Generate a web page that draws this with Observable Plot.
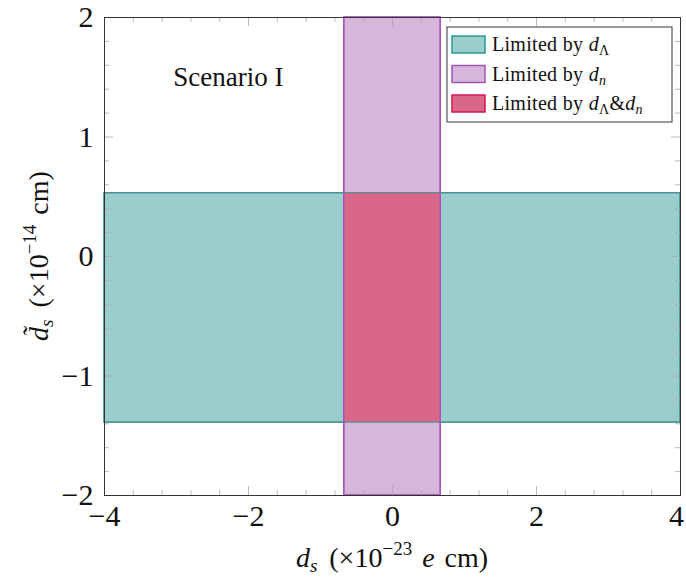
<!DOCTYPE html>
<html>
<head>
<meta charset="utf-8">
<script src="https://cdn.jsdelivr.net/npm/d3@7"></script>
<script src="https://cdn.jsdelivr.net/npm/@observablehq/plot@0.6"></script>
<style>
  html, body { margin: 0; padding: 0; background: #fff; }
  #chart svg { display: block; }
  #chart svg text { font-family: "Liberation Serif", "Times New Roman", Times, "DejaVu Serif", "Noto Serif", serif; }
</style>
</head>
<body>
<div id="chart"></div>
<script>
// ---- data ----
const xDomain = [-4, 4];
const yDomain = [-2, 2];
const xMajorTicks = [-4, -2, 0, 2, 4];
const xMinorStep = 0.4;
const yMajorTicks = [-2, -1, 0, 1, 2];
const yMinorStep = 0.2;

// Limits from d_Lambda (band in y, full x range)
const lambdaBand = [{x1: -4, x2: 4, y1: -1.39, y2: 0.53}];
// Limits from d_n (band in x, full y range)
const neutronBand = [{x1: -0.67, x2: 0.67, y1: -2, y2: 2}];
// Overlap of both
const overlapBand = [{x1: -0.67, x2: 0.67, y1: -1.39, y2: 0.53}];

const annotation = [{x: -2.28, y: 1.5, text: "Scenario I"}];

const legendItems = [
  {label: "Limited by ", math: [["d", ""], ["Λ", "sub"]], fill: "#9ccdcd", stroke: "#2a9a93"},
  {label: "Limited by ", math: [["d", ""], ["n", "sub"]], fill: "#d6b7da", stroke: "#a154b6"},
  {label: "Limited by ", math: [["d", ""], ["Λ", "sub"], ["&", "amp"], ["d", ""], ["n", "sub"]], fill: "#da6689", stroke: "#d6154f"}
];

// ---- helpers ----
function range(a, b, step) {
  const out = [];
  const n = Math.round((b - a) / step);
  for (let i = 0; i <= n; i++) out.push(+(a + i * step).toFixed(6));
  return out;
}
const xMinor = range(xDomain[0], xDomain[1], xMinorStep).filter(v => !xMajorTicks.includes(v));
const yMinor = range(yDomain[0], yDomain[1], yMinorStep).filter(v => !yMajorTicks.includes(v));
const fmt = d => d < 0 ? "\u2212" + Math.abs(d) : String(d);

const W = 686, H = 582;
const mL = 104, mR = 6, mT = 17, mB = 87;
const pxX = (xDomain[1] - xDomain[0]) / (W - mL - mR);
const pxY = (yDomain[1] - yDomain[0]) / (H - mT - mB);
const majLen = 9, minLen = 5;
const tickColor = "#a8a8a8";

function xTicks(vals, len) {
  return [
    Plot.ruleX(vals, {x: d => d, y1: yDomain[0], y2: yDomain[0] + len * pxY, stroke: tickColor, strokeWidth: 0.8}),
    Plot.ruleX(vals, {x: d => d, y1: yDomain[1], y2: yDomain[1] - len * pxY, stroke: tickColor, strokeWidth: 0.8})
  ];
}
function yTicks(vals, len) {
  return [
    Plot.ruleY(vals, {y: d => d, x1: xDomain[0], x2: xDomain[0] + len * pxX, stroke: tickColor, strokeWidth: 0.8}),
    Plot.ruleY(vals, {y: d => d, x1: xDomain[1], x2: xDomain[1] - len * pxX, stroke: tickColor, strokeWidth: 0.8})
  ];
}

const fontFamily = "Liberation Serif, Times New Roman, Times, DejaVu Serif, Noto Serif, serif";

const chart = Plot.plot({
  width: W,
  height: H,
  marginLeft: mL,
  marginRight: mR,
  marginTop: mT,
  marginBottom: mB,
  style: {fontFamily, background: "#fff", overflow: "visible"},
  x: {domain: xDomain},
  y: {domain: yDomain},
  marks: [
    Plot.rect(lambdaBand, {x1: "x1", x2: "x2", y1: "y1", y2: "y2", fill: legendItems[0].fill, stroke: legendItems[0].stroke, strokeWidth: 1.2}),
    Plot.rect(neutronBand, {x1: "x1", x2: "x2", y1: "y1", y2: "y2", fill: legendItems[1].fill, stroke: legendItems[1].stroke, strokeWidth: 1.2}),
    Plot.rect(overlapBand, {x1: "x1", x2: "x2", y1: "y1", y2: "y2", fill: legendItems[2].fill}),
    Plot.rect(lambdaBand, {x1: "x1", x2: "x2", y1: "y1", y2: "y2", fill: "none", stroke: "#4f8f94", strokeWidth: 1.2}),
    Plot.rect(neutronBand, {x1: "x1", x2: "x2", y1: "y1", y2: "y2", fill: "none", stroke: legendItems[1].stroke, strokeWidth: 1.4}),
    ...xTicks(xMinor, minLen),
    ...xTicks(xMajorTicks, majLen),
    ...yTicks(yMinor, minLen),
    ...yTicks(yMajorTicks, majLen),
    Plot.axisX(xMajorTicks, {tickSize: 0, tickPadding: 9, tickFormat: fmt, fontSize: 30, label: null, fill: "#111"}),
    Plot.axisY(yMajorTicks, {tickSize: 0, tickPadding: 11, tickFormat: fmt, fontSize: 30, label: null, fill: "#111"}),
    Plot.text(annotation, {x: "x", y: "y", text: "text", fontSize: 27, fill: "#111"}),
    Plot.frame({stroke: "#333", strokeWidth: 1})
  ]
});

document.getElementById("chart").appendChild(chart);

const svg = d3.select(chart);
const sx = chart.scale("x"), sy = chart.scale("y");
const cx = (sx.apply(xDomain[0]) + sx.apply(xDomain[1])) / 2;
const cy = (sy.apply(yDomain[0]) + sy.apply(yDomain[1])) / 2;

// keep the rightmost x tick label inside the picture
{
  const labels = svg.selectAll('g[aria-label="x-axis tick label"] text').nodes();
  if (labels.length) d3.select(labels[labels.length - 1]).attr("dx", -4);
}

// x-axis label: d_s (×10^{-23} e cm)
{
  const t = svg.append("text")
    .attr("x", cx).attr("y", 567)
    .attr("text-anchor", "middle")
    .attr("font-size", 28).attr("fill", "#111");
  t.append("tspan").attr("font-style", "italic").text("d");
  t.append("tspan").attr("font-style", "italic").attr("font-size", 19).attr("dy", 5).text("s");
  t.append("tspan").attr("dy", -5).attr("dx", 12).text("(×10");
  t.append("tspan").attr("font-size", 19).attr("dy", -12).text("\u221223");
  t.append("tspan").attr("dy", 12).attr("dx", 10).attr("font-style", "italic").text("e");
  t.append("tspan").attr("dx", 10).text("cm)");
}
// y-axis label: d̃_s (×10^{-14} cm)
{
  const t = svg.append("text")
    .attr("transform", `translate(48,${cy}) rotate(-90)`)
    .attr("text-anchor", "middle")
    .attr("font-size", 28).attr("fill", "#111");
  t.append("tspan").attr("font-style", "italic").text("d\u0303");
  t.append("tspan").attr("font-style", "italic").attr("font-size", 19).attr("dy", 5).text("s");
  t.append("tspan").attr("dy", -5).attr("dx", 12).text("(×10");
  t.append("tspan").attr("font-size", 19).attr("dy", -12).text("\u221214");
  t.append("tspan").attr("dy", 12).attr("dx", 10).text("cm)");
}

// legend
{
  const right = sx.apply(xDomain[1]) - 8;
  const top = sy.apply(yDomain[1]) + 10;
  const lw = 225, lh = 95;
  const g = svg.append("g").attr("transform", `translate(${right - lw},${top})`);
  g.append("rect").attr("width", lw).attr("height", lh).attr("fill", "#fff").attr("stroke", "#333").attr("stroke-width", 1);
  legendItems.forEach((d, i) => {
    const y0 = 9 + i * 29.5;
    g.append("rect").attr("x", 5).attr("y", y0).attr("width", 33).attr("height", 17)
      .attr("fill", d.fill).attr("stroke", d.stroke).attr("stroke-width", 1.5);
    const t = g.append("text").attr("x", 45).attr("y", y0 + 15)
      .attr("text-anchor", "start")
      .attr("font-size", 20).attr("letter-spacing", 0.3).attr("fill", "#111");
    t.append("tspan").text(d.label);
    let sub = false;
    d.math.forEach(([s, kind]) => {
      if (kind === "sub") {
        t.append("tspan").attr("font-style", s === "Λ" ? "normal" : "italic").attr("font-size", 14).attr("dy", sub ? 0 : 4).text(s);
        sub = true;
      } else {
        const sp = t.append("tspan").attr("dy", sub ? -4 : 0);
        sub = false;
        if (kind === "amp") sp.text(s); else sp.attr("font-style", "italic").text(s);
      }
    });
  });
}
</script>
</body>
</html>
